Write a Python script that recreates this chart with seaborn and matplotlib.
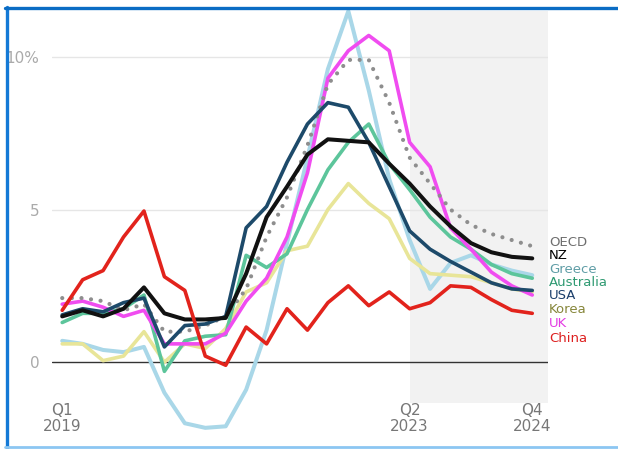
import numpy as np
import pandas as pd
import matplotlib
matplotlib.use("Agg")
import matplotlib.pyplot as plt
import seaborn as sns
from matplotlib.lines import Line2D

# Quarterly inflation, % year on year, Q1 2019 .. Q4 2024
quarters = [str(p) for p in pd.period_range("2019Q1", "2024Q4", freq="Q")]

oecd = [2.1, 2.1, 2.0, 1.7, 1.9, 1.0, 1.0, 1.2, 1.5, 2.4, 4.1, 5.4,
        7.1, 9.1, 9.9, 9.9, 8.5, 6.7, 5.85, 5.0, 4.5, 4.2, 4.0, 3.8]
nz = [1.5, 1.7, 1.5, 1.75, 2.45, 1.6, 1.4, 1.4, 1.45, 2.9, 4.75, 5.75,
      6.8, 7.3, 7.25, 7.2, 6.5, 5.85, 5.1, 4.45, 3.9, 3.6, 3.45, 3.4]
greece = [0.7, 0.6, 0.4, 0.33, 0.5, -1.0, -2.0, -2.15, -2.1, -0.9, 1.05, 3.9,
          6.7, 9.6, 11.5, 8.9, 6.0, 4.0, 2.4, 3.25, 3.5, 3.2, 3.0, 2.85]
australia = [1.3, 1.6, 1.6, 1.75, 2.2, -0.3, 0.7, 0.85, 0.9, 3.5, 3.1, 3.55,
             5.0, 6.3, 7.2, 7.8, 6.5, 5.65, 4.75, 4.1, 3.7, 3.2, 2.9, 2.75]
usa = [1.55, 1.75, 1.65, 1.95, 2.1, 0.5, 1.2, 1.25, 1.5, 4.4, 5.1, 6.55,
       7.8, 8.5, 8.35, 7.2, 5.75, 4.3, 3.7, 3.3, 2.95, 2.6, 2.4, 2.35]
korea = [0.6, 0.6, 0.05, 0.2, 1.0, 0.0, 0.6, 0.45, 1.1, 2.3, 2.6, 3.65,
         3.8, 5.0, 5.85, 5.2, 4.7, 3.4, 2.9, 2.85, 2.8, 2.6, 2.4, 2.3]
uk = [1.9, 2.0, 1.8, 1.5, 1.7, 0.6, 0.6, 0.6, 0.95, 2.0, 2.75, 4.1,
      6.2, 9.3, 10.2, 10.7, 10.2, 7.2, 6.4, 4.4, 3.7, 2.95, 2.5, 2.2]
china = [1.7, 2.7, 3.0, 4.1, 4.95, 2.8, 2.35, 0.2, -0.1, 1.15, 0.6, 1.75,
         1.05, 1.95, 2.5, 1.85, 2.3, 1.75, 1.95, 2.5, 2.45, 2.05, 1.7, 1.6]

countries = ["Greece", "Korea", "Australia", "UK", "OECD", "USA", "NZ", "China"]
series = {"OECD": oecd, "NZ": nz, "Greece": greece, "Australia": australia,
          "USA": usa, "Korea": korea, "UK": uk, "China": china}

x_tick_pos = [0, 17, 23]
x_tick_labels = ["Q1\n2019", "Q2\n2023", "Q4\n2024"]
y_ticks = [0, 5, 10]
y_tick_labels = ["0", "5", "10%"]
forecast_start = 17

# styling
line_colors = {"OECD": "#8e8e8e", "NZ": "#111111", "Greece": "#a9d7e8",
               "Australia": "#5cc59b", "USA": "#1d4a6a", "Korea": "#e8e598",
               "UK": "#f04cf0", "China": "#e2231c"}
label_colors = {"OECD": "#6e6e6e", "NZ": "#000000", "Greece": "#5f9da6",
                "Australia": "#2f9a72", "USA": "#1b3f6b", "Korea": "#86863a",
                "UK": "#e33be3", "China": "#dd2020"}
# end-label vertical placement (data units), spread out to avoid overlap
label_y = {"OECD": 3.93, "NZ": 3.49, "Greece": 3.05, "Australia": 2.61,
           "USA": 2.17, "Korea": 1.73, "UK": 1.27, "China": 0.79}

df = pd.DataFrame([
    {"q": i, "quarter": quarters[i], "country": c, "value": v}
    for c in countries for i, v in enumerate(series[c])
])

sns.set_style("white")
plt.rcParams["font.family"] = ["DejaVu Sans"]

W, H = 618, 449
fig = plt.figure(figsize=(W / 100, H / 100), dpi=100)
ax = fig.add_axes([52 / W, (H - 437) / H, 496 / W, 429 / H])
ax.set_xlim(-0.5, 23.77)
ax.set_ylim(-2.45, 11.6)

# shaded forecast period
ax.fill_between([forecast_start, 23.77], -1.35, 11.5, color="#f2f2f2",
                lw=0, zorder=0)

for yv in (5, 10):
    ax.axhline(yv, color="#e6e6e6", lw=1.0, zorder=1)
ax.axhline(0, color="#333333", lw=1.0, zorder=1)

for z, c in enumerate(countries):
    sub = df[df["country"] == c]
    kw = dict(color=line_colors[c], lw=2.6, solid_joinstyle="round",
              solid_capstyle="round", zorder=3 + z)
    if c == "OECD":
        kw.update(lw=3.0, linestyle=(0, (0.01, 2.3)), dash_capstyle="round")
    if c in ("NZ", "Greece"):
        kw["lw"] = 2.9
    sns.lineplot(data=sub, x="q", y="value", estimator=None, sort=False,
                 ax=ax, legend=False, **kw)

for c in countries:
    ax.text(23.82, label_y[c], c, color=label_colors[c], fontsize=9.5,
            ha="left", va="center", clip_on=False)

for xp, lab in zip(x_tick_pos, x_tick_labels):
    ax.text(xp, -1.85, lab, ha="center", va="center", color="#777777",
            fontsize=11, linespacing=1.05)

ax.set_xticks([])
ax.set_yticks(y_ticks)
ax.set_yticklabels(y_tick_labels)
ax.tick_params(axis="y", length=0, pad=9, labelcolor="#aaaaaa", labelsize=11)
ax.set_xlabel("")
ax.set_ylabel("")
sns.despine(ax=ax, left=True, bottom=True)

# frame around the graphic
def px_line(xs, ys, color, lw):
    fig.add_artist(Line2D([x / W for x in xs], [1 - y / H for y in ys],
                          color=color, lw=lw, transform=fig.transFigure))

px_line([6.5, 6.5], [7, 448], "#1479d6", 2.4)
px_line([5, W], [8, 8], "#0a6cc4", 2.4)
px_line([5, W], [446.5, 446.5], "#8cc6f2", 2.0)

fig.savefig("out.png", dpi=100)
